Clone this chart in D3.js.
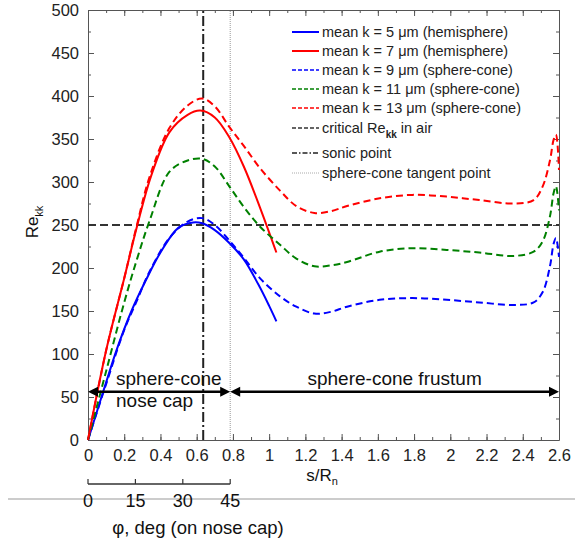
<!DOCTYPE html>
<html>
<head>
<meta charset="utf-8">
<script src="https://cdn.jsdelivr.net/npm/d3@7/dist/d3.min.js"></script>
<style>
  html, body { margin: 0; padding: 0; background: #fff; }
  svg { display: block; font-family: "Liberation Sans", Arial, sans-serif; }
  .axis path, .axis line { stroke: #555; }
  .axis text { fill: #222; }
</style>
</head>
<body>
<svg id="chart" width="581" height="544"></svg>
<script>
// Roughness Reynolds number along the surface, s/Rn
const k5hemiS  = [0, 0.1, 0.16, 0.24, 0.32, 0.4, 0.5, 0.58, 0.63, 0.7, 0.78, 0.86, 0.94, 1.0, 1.04];
const k5hemiV  = [0, 67, 106, 150, 186, 218, 247, 253, 252, 244, 229, 210, 181, 156, 138];

const k7hemiS  = [0, 0.1, 0.2, 0.27, 0.35, 0.45, 0.55, 0.62, 0.7, 0.78, 0.86, 0.95, 1.04];
const k7hemiV  = [0, 104, 188, 248, 308, 358, 378, 383, 375, 352, 318, 270, 218];

const coneS = [0, 0.1, 0.2, 0.27, 0.34, 0.45, 0.55, 0.63, 0.7, 0.78, 0.86, 0.95, 1.06, 1.15, 1.25,
               1.34, 1.43, 1.61, 1.79, 1.98, 2.16, 2.35, 2.46, 2.51, 2.55, 2.57, 2.583, 2.6];
const k9coneV  = [0, 65, 128, 162, 196, 235, 254, 258, 250, 232, 212, 188, 167, 155, 147,
                  149, 155, 163, 165, 163, 160, 157, 160, 172, 202, 228, 235, 213];
const k11coneV = [0, 80, 160, 210, 255, 312, 325, 327, 318, 295, 271, 248, 227, 211, 202,
                  203, 207, 219, 223, 221, 218, 214, 219, 231, 260, 287, 295, 267];
const k13coneV = [0, 104, 188, 250, 306, 363, 389, 397, 388, 364, 342, 316, 290, 272, 264,
                  266, 272, 281, 285, 283, 279, 275, 279, 295, 325, 349, 355, 314];

const criticalRe = 250;
const sonicPoint = 0.636;
const tangentPoint = 0.785;

const xTicks = [0, 0.2, 0.4, 0.6, 0.8, 1, 1.2, 1.4, 1.6, 1.8, 2, 2.2, 2.4, 2.6];
const yTicks = [0, 50, 100, 150, 200, 250, 300, 350, 400, 450, 500];
const phiTicks = [0, 15, 30, 45];

const svg = d3.select("#chart");
const x = d3.scaleLinear().domain([0, 2.6]).range([88, 559]);
const y = d3.scaleLinear().domain([0, 500]).range([440, 10]);
const phi = d3.scaleLinear().domain([0, 45]).range([x(0), x(tangentPoint)]);

const xMinor = d3.range(0, 2.61, 0.1).map(v => +v.toFixed(2));
const yMinor = d3.range(0, 501, 25);

// frame with inward ticks on all four sides
function minorAxis(gen, pos, vals) {
  svg.append("g").attr("class", "axis").attr("transform", pos)
    .call(gen.tickValues(vals).tickSize(-3).tickFormat(""))
    .call(g => g.select(".domain").remove());
}
minorAxis(d3.axisBottom(x), "translate(0,440)", xMinor);
minorAxis(d3.axisTop(x), "translate(0,10)", xMinor);
minorAxis(d3.axisLeft(y), "translate(88,0)", yMinor);
minorAxis(d3.axisRight(y), "translate(559,0)", yMinor);

svg.append("g").attr("class", "axis").attr("transform", "translate(0,440)")
  .call(d3.axisBottom(x).tickValues(xTicks).tickSize(-6).tickPadding(9).tickSizeOuter(0)
        .tickFormat(d => d3.format("~g")(d)))
  .call(g => g.selectAll("text").attr("font-size", 16.5).attr("dy", "0.71em"));
svg.append("g").attr("class", "axis").attr("transform", "translate(0,10)")
  .call(d3.axisTop(x).tickValues(xTicks).tickSize(-6).tickFormat("").tickSizeOuter(0));
svg.append("g").attr("class", "axis").attr("transform", "translate(88,0)")
  .call(d3.axisLeft(y).tickValues(yTicks).tickSize(-6).tickPadding(9).tickSizeOuter(0))
  .call(g => g.selectAll("text").attr("font-size", 16.5));
svg.append("g").attr("class", "axis").attr("transform", "translate(559,0)")
  .call(d3.axisRight(y).tickValues(yTicks).tickSize(-6).tickFormat("").tickSizeOuter(0));

// reference lines
svg.append("line")
  .attr("x1", x(0)).attr("x2", x(2.6)).attr("y1", y(criticalRe)).attr("y2", y(criticalRe))
  .attr("stroke", "#333").attr("stroke-width", 2).attr("stroke-dasharray", "8,4");
svg.append("line")
  .attr("x1", x(sonicPoint)).attr("x2", x(sonicPoint)).attr("y1", y(0)).attr("y2", y(500))
  .attr("stroke", "#222").attr("stroke-width", 2).attr("stroke-dasharray", "10,3,2,3");
svg.append("line")
  .attr("x1", x(tangentPoint)).attr("x2", x(tangentPoint)).attr("y1", y(0)).attr("y2", y(500))
  .attr("stroke", "#999").attr("stroke-width", 1).attr("stroke-dasharray", "1,1");

// curves
const line = d3.line().x(d => x(d[0])).y(d => y(d[1])).curve(d3.curveCatmullRom.alpha(0.5));
const series = [
  { s: k5hemiS, v: k5hemiV, color: "#0000ff", dash: null },
  { s: k7hemiS, v: k7hemiV, color: "#ff0000", dash: null },
  { s: coneS, v: k9coneV, color: "#0000ff", dash: "7,4" },
  { s: coneS, v: k11coneV, color: "#008000", dash: "7,4" },
  { s: coneS, v: k13coneV, color: "#ff0000", dash: "7,4" }
];
series.forEach(sr => {
  svg.append("path")
    .datum(d3.zip(sr.s, sr.v))
    .attr("d", line)
    .attr("fill", "none")
    .attr("stroke", sr.color)
    .attr("stroke-width", 2)
    .attr("stroke-dasharray", sr.dash);
});

// region arrows
const arrowY = y(56);
function dblArrow(s0, s1) {
  const a = x(s0), b = x(s1), h = 10, w = 5;
  svg.append("line").attr("x1", a + 4).attr("x2", b - 4).attr("y1", arrowY).attr("y2", arrowY)
    .attr("stroke", "#000").attr("stroke-width", 2.5);
  svg.append("path").attr("d", `M${a},${arrowY}L${a + h},${arrowY - w}L${a + h},${arrowY + w}Z`).attr("fill", "#000");
  svg.append("path").attr("d", `M${b},${arrowY}L${b - h},${arrowY - w}L${b - h},${arrowY + w}Z`).attr("fill", "#000");
}
dblArrow(0, tangentPoint);
dblArrow(tangentPoint, 2.6);

svg.append("text").attr("x", 116).attr("y", 385).attr("font-size", 19).attr("fill", "#111").text("sphere-cone");
svg.append("text").attr("x", 116).attr("y", 407).attr("font-size", 19).attr("fill", "#111").text("nose cap");
svg.append("text").attr("x", (x(tangentPoint) + x(2.6)) / 2).attr("y", 385).attr("text-anchor", "middle")
  .attr("font-size", 19).attr("fill", "#111").text("sphere-cone frustum");

// axis titles
const xt = svg.append("text").attr("x", 322).attr("y", 481).attr("text-anchor", "middle")
  .attr("font-size", 17).attr("fill", "#111");
xt.append("tspan").text("s/R");
xt.append("tspan").attr("font-size", 11).attr("dy", 4).text("n");

const yt = svg.append("text").attr("transform", "translate(38,222) rotate(-90)")
  .attr("text-anchor", "middle").attr("font-size", 17).attr("fill", "#111");
yt.append("tspan").text("Re");
yt.append("tspan").attr("font-size", 11).attr("dy", 5).text("kk");

// nose-cap angle scale
svg.append("line").attr("x1", 8).attr("x2", 575).attr("y1", 499).attr("y2", 499)
  .attr("stroke", "#999").attr("stroke-width", 1);
svg.append("line").attr("x1", phi(0)).attr("x2", phi(45)).attr("y1", 484).attr("y2", 484)
  .attr("stroke", "#333").attr("stroke-width", 1.5);
phiTicks.forEach(t => {
  svg.append("line").attr("x1", phi(t)).attr("x2", phi(t)).attr("y1", 484).attr("y2", 479)
    .attr("stroke", "#333").attr("stroke-width", 1.2);
  svg.append("text").attr("x", phi(t)).attr("y", 507).attr("text-anchor", "middle")
    .attr("font-size", 18).attr("fill", "#111").text(t);
});
svg.append("text").attr("x", 198).attr("y", 534).attr("text-anchor", "middle")
  .attr("font-size", 18.5).attr("fill", "#111").text("\u03c6, deg (on nose cap)");

// legend
const legend = [
  { label: "mean k = 5 \u03bcm (hemisphere)", color: "#0000ff", dash: null, w: 2, yy: 32 },
  { label: "mean k = 7 \u03bcm (hemisphere)", color: "#ff0000", dash: null, w: 2, yy: 51 },
  { label: "mean k = 9 \u03bcm (sphere-cone)", color: "#0000ff", dash: "4,2", w: 1.5, yy: 70 },
  { label: "mean k = 11 \u03bcm (sphere-cone)", color: "#008000", dash: "4,2", w: 1.5, yy: 89 },
  { label: "mean k = 13 \u03bcm (sphere-cone)", color: "#ff0000", dash: "4,2", w: 1.5, yy: 108 },
  { label: "critical Re", sub: "kk", after: " in air", color: "#333", dash: "4,2", w: 1.5, yy: 128 },
  { label: "sonic point", color: "#222", dash: "5,2,1.5,2", w: 1.5, yy: 153 },
  { label: "sphere-cone tangent point", color: "#aaa", dash: "1,1", w: 1, yy: 173 }
];
legend.forEach(l => {
  svg.append("line").attr("x1", 292).attr("x2", 319).attr("y1", l.yy).attr("y2", l.yy)
    .attr("stroke", l.color).attr("stroke-width", l.w).attr("stroke-dasharray", l.dash);
  const t = svg.append("text").attr("x", 322).attr("y", l.yy + 5).attr("font-size", 14.5).attr("fill", "#222");
  t.append("tspan").text(l.label);
  if (l.sub) {
    t.append("tspan").attr("font-size", 10).attr("font-weight", "bold").attr("dy", 5).text(l.sub);
    t.append("tspan").attr("dy", -5).text(l.after);
  }
});
</script>
</body>
</html>
